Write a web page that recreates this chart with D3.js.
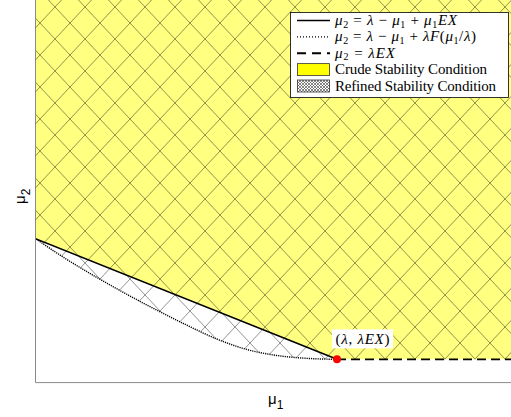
<!DOCTYPE html>
<html>
<head>
<meta charset="utf-8">
<script src="https://cdn.jsdelivr.net/npm/d3@7"></script>
<style>
body { margin: 0; background: #fff; }
</style>
</head>
<body>
<div class="chart"></div>
<script>
const width = 511
const height = 417

const lambda = 1
const EX = 0.162

// refined boundary (dotted)
const refinedMu1 = [0, 0.1, 0.2, 0.3, 0.4, 0.5, 0.6, 0.7, 0.8, 0.9, 1.0]
const refinedMu2 = [1.0, 0.861, 0.735, 0.617, 0.506, 0.401, 0.304, 0.231, 0.189, 0.169, 0.162]

// crude boundary (solid) and the flat part mu2 = lambda*EX (dashed)
const crudeMu1 = [0, 1]
const crudeMu2 = [1, 0.162]
const flatMu1 = [1, 1.6]
const flatMu2 = [0.162, 0.162]

const xDomain = [0, 1.6]
const yDomain = [0, 2.7]

const legendKeys = ['solid', 'dotted', 'dashed', 'crude', 'refined']

let x = d3.scaleLinear()
    .domain(xDomain)
    .range([36, 517.6])

let y = d3.scaleLinear()
    .domain(yDomain)
    .range([382.6, -5.1])

const svg = d3.select('.chart').append('svg')
    .attr('width', width)
    .attr('height', height)
    .style('font-family', '"Liberation Serif", "DejaVu Serif", serif')

const defs = svg.append('defs')

// big cross hatch used on the plot
const hatch = defs.append('pattern')
    .attr('id', 'hatch')
    .attr('patternUnits', 'userSpaceOnUse')
    .attr('width', 30)
    .attr('height', 32)
    .attr('patternTransform', 'translate(25,7)')
hatch.append('path')
    .attr('d', 'M0,0L30,32M0,32L30,0')
    .attr('stroke', '#000')
    .attr('stroke-opacity', 0.5)
    .attr('stroke-width', 0.85)
    .attr('fill', 'none')

// small one for the legend swatch
const hatchSmall = defs.append('pattern')
    .attr('id', 'hatch-small')
    .attr('patternUnits', 'userSpaceOnUse')
    .attr('width', 3)
    .attr('height', 3)
hatchSmall.append('path')
    .attr('d', 'M0,0L3,3M0,3L3,0')
    .attr('stroke', '#555')
    .attr('stroke-width', 0.7)
    .attr('fill', 'none')

defs.append('clipPath')
    .attr('id', 'plot-clip')
    .append('rect')
    .attr('x', x(0))
    .attr('y', y(yDomain[1]))
    .attr('width', x(xDomain[1]) - x(0))
    .attr('height', y(0) - y(yDomain[1]))

const plot = svg.append('g').attr('clip-path', 'url(#plot-clip)')

const toPts = (a, b) => a.map((v, i) => [v, b[i]])
const crudePts = toPts(crudeMu1, crudeMu2)
const refinedPts = toPts(refinedMu1, refinedMu2)
const flatPts = toPts(flatMu1, flatMu2)
const topEdge = [[xDomain[1], yDomain[1]], [0, yDomain[1]]]

const line = d3.line()
    .x(d => x(d[0]))
    .y(d => y(d[1]))

// crude region, yellow
plot.append('path')
    .datum(crudePts.concat(flatPts, topEdge))
    .attr('d', d => line(d) + 'Z')
    .attr('fill', '#ffff80')

// refined region, hatched
plot.append('path')
    .datum(refinedPts.concat(flatPts, topEdge))
    .attr('d', d => line(d) + 'Z')
    .attr('fill', 'url(#hatch)')

plot.append('path')
    .datum(refinedPts)
    .attr('d', d3.line().curve(d3.curveMonotoneX).x(d => x(d[0])).y(d => y(d[1])))
    .attr('fill', 'none')
    .attr('stroke', '#000')
    .attr('stroke-width', 1.4)
    .attr('stroke-dasharray', '1.2,1')

plot.append('path')
    .datum(crudePts)
    .attr('d', line)
    .attr('fill', 'none')
    .attr('stroke', '#000')
    .attr('stroke-width', 1.6)

plot.append('path')
    .datum(flatPts)
    .attr('d', line)
    .attr('fill', 'none')
    .attr('stroke', '#000')
    .attr('stroke-width', 1.8)
    .attr('stroke-dasharray', '9,5')

// axes box (only left and bottom are in view)
svg.append('path')
    .attr('d', `M${x(0) - 0.5},0V${y(0)}H${width}`)
    .attr('fill', 'none')
    .attr('stroke', '#8a8a8a')
    .attr('stroke-width', 1)

// the point (lambda, lambda EX)
svg.append('circle')
    .attr('cx', x(lambda))
    .attr('cy', y(lambda * EX))
    .attr('r', 4)
    .attr('fill', '#f00')

svg.append('rect')
    .attr('x', x(lambda) - 5)
    .attr('y', y(lambda * EX) - 30)
    .attr('width', 61)
    .attr('height', 19)
    .attr('fill', '#fff')

const pt = svg.append('text')
    .attr('x', x(lambda) + 25.5)
    .attr('y', y(lambda * EX) - 15.5)
    .attr('text-anchor', 'middle')
    .attr('textLength', 54)
    .style('font-size', '15px')
pt.append('tspan').text('(')
pt.append('tspan').style('font-style', 'italic').text('λ')
pt.append('tspan').text(', ')
pt.append('tspan').style('font-style', 'italic').text('λEX')
pt.append('tspan').text(')')

// axis labels
const xl = svg.append('text')
    .attr('x', 268)
    .attr('y', 404)
    .style('font-family', '"Liberation Sans", Arial, sans-serif')
    .style('font-size', '15px')
xl.append('tspan').text('μ')
xl.append('tspan').attr('dy', 5).style('font-size', '12px').text('1')

const yl = svg.append('text')
    .attr('transform', 'translate(25,204) rotate(-90)')
    .style('font-family', '"Liberation Sans", Arial, sans-serif')
    .style('font-size', '15px')
yl.append('tspan').text('μ')
yl.append('tspan').attr('dy', 5).style('font-size', '12px').text('2')

// LEGEND
const legend = svg.append('g')
legend.append('rect')
    .attr('x', 290.5)
    .attr('y', 12.5)
    .attr('width', 218)
    .attr('height', 85)
    .attr('fill', '#fff')
    .attr('stroke', '#000')
    .attr('stroke-width', 0.8)

const rowY = d3.scalePoint()
    .domain(legendKeys)
    .range([20.5, 86])

const sx0 = 297, sx1 = 330, tx = 335

legend.append('line')
    .attr('x1', sx0).attr('x2', sx1)
    .attr('y1', rowY('solid')).attr('y2', rowY('solid'))
    .attr('stroke', '#000').attr('stroke-width', 1.6)
legend.append('line')
    .attr('x1', sx0).attr('x2', sx1)
    .attr('y1', rowY('dotted')).attr('y2', rowY('dotted'))
    .attr('stroke', '#000').attr('stroke-width', 1.2)
    .attr('stroke-dasharray', '1,2')
legend.append('line')
    .attr('x1', sx0).attr('x2', sx1)
    .attr('y1', rowY('dashed')).attr('y2', rowY('dashed'))
    .attr('stroke', '#000').attr('stroke-width', 1.8)
    .attr('stroke-dasharray', '9,6')
legend.append('rect')
    .attr('x', sx0 + 0.5).attr('y', rowY('crude') - 6)
    .attr('width', sx1 - sx0 - 1).attr('height', 12)
    .attr('fill', '#ff0').attr('stroke', '#333').attr('stroke-width', 0.8)
legend.append('rect')
    .attr('x', sx0 + 0.5).attr('y', rowY('refined') - 6)
    .attr('width', sx1 - sx0 - 1).attr('height', 12)
    .attr('fill', 'url(#hatch-small)').attr('stroke', '#333').attr('stroke-width', 0.8)

// parts: [text, kind], kind 'i' italic, 'sub' subscript
function mathText(key, parts, len) {
    const t = legend.append('text')
        .attr('x', tx)
        .attr('y', rowY(key) + 4.5)
        .style('font-size', '15px')
    if (len) t.attr('textLength', len).attr('lengthAdjust', 'spacing')
    let shift = 0
    parts.forEach(p => {
        const s = t.append('tspan').text(p[0])
        const want = p[1] === 'sub' ? 2.5 : 0
        if (want !== shift) { s.attr('dy', want - shift); shift = want }
        if (p[1] === 'i') s.style('font-style', 'italic')
        if (p[1] === 'sub') s.style('font-size', '10px')
    })
}

mathText('solid', [['μ', 'i'], ['2', 'sub'], ['  =  '], ['λ', 'i'], ['  −  '], ['μ', 'i'], ['1', 'sub'], ['  +  '], ['μ', 'i'], ['1', 'sub'], ['EX', 'i']], 122)
mathText('dotted', [['μ', 'i'], ['2', 'sub'], ['  =  '], ['λ', 'i'], ['  −  '], ['μ', 'i'], ['1', 'sub'], ['  +  '], ['λF', 'i'], ['('], ['μ', 'i'], ['1', 'sub'], ['/'], ['λ', 'i'], [')']], 141)
mathText('dashed', [['μ', 'i'], ['2', 'sub'], ['  =  '], ['λEX', 'i']], 60)
mathText('crude', [['Crude Stability Condition']], 152)
mathText('refined', [['Refined Stability Condition']], 161)
</script>
</body>
</html>
